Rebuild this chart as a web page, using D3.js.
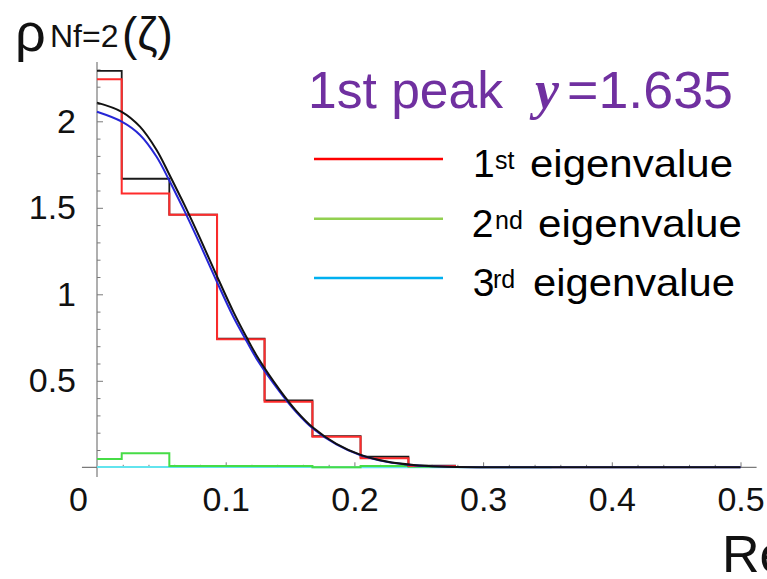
<!DOCTYPE html>
<html>
<head>
<meta charset="utf-8">
<script src="https://cdn.jsdelivr.net/npm/d3@7"></script>
<style>
  html, body { margin: 0; padding: 0; background: #fff; }
  svg { display: block; }
</style>
</head>
<body>
<svg id="chart" width="767" height="579"></svg>
<script>
// ---------- data ----------
const binEdges = [0, 0.0192, 0.0562, 0.0933, 0.1302, 0.1674, 0.2048, 0.2420, 0.2789, 0.3162, 0.3533];
const histFirst   = [2.243, 1.582, 1.460, 0.740, 0.379, 0.177, 0.052, 0.008];   // red
const histTheory  = [2.291, 1.668, 1.460, 0.743, 0.387, 0.180, 0.061, 0.009];   // black
const histSecond  = [0.048, 0.081, 0.008, 0.008, 0.008, 0.000, 0.007, 0.003];   // green
const histThird   = [0.002, 0.002, 0.002, 0.002, 0.002, 0.001, 0.001, 0.001, 0.001, 0.001]; // cyan

const curveX      = [0, 0.0192, 0.0334, 0.0463, 0.0557, 0.0624, 0.0684, 0.080, 0.093, 0.1059, 0.1163, 0.1253, 0.1422, 0.155, 0.168, 0.186, 0.2044, 0.225, 0.246, 0.2665, 0.30, 0.40, 0.50];
const curveBlack  = [2.108, 2.055, 1.969, 1.834, 1.700, 1.600, 1.510, 1.325, 1.108, 0.900, 0.750, 0.630, 0.445, 0.325, 0.228, 0.135, 0.073, 0.033, 0.013, 0.004, 0.000, 0.000, 0.000];
const curveBlue   = [2.055, 1.998, 1.921, 1.795, 1.665, 1.565, 1.475, 1.290, 1.075, 0.870, 0.728, 0.612, 0.435, 0.318, 0.223, 0.132, 0.071, 0.032, 0.012, 0.004, 0.000, 0.000, 0.000];

const xTicksMajor = [0, 0.1, 0.2, 0.3, 0.4, 0.5];
const xTickLabels = ["0", "0.1", "0.2", "0.3", "0.4", "0.5"];
const yTicksMajor = [0.5, 1, 1.5, 2];
const yTickLabels = ["0.5", "1", "1.5", "2"];

const legendNames = [["1", "st"], ["2", "nd"], ["3", "rd"]];
const legendColors = ["#ff0000", "#92d050", "#00b0f0"];

// ---------- scales ----------
const sans = "'Liberation Sans', Arial, sans-serif";
const serif = "'Liberation Serif', 'Times New Roman', serif";
const svg = d3.select("#chart").style("font-family", sans);
const x = d3.scaleLinear().domain([0, 0.5]).range([97, 740.5]);
const y = d3.scaleLinear().domain([0, 1]).range([467.3, 294.3]);

const axisColor = "#7a7a7a";

// axis lines
svg.append("line").attr("x1", x(-0.0117)).attr("x2", x(0.5125))
  .attr("y1", y(0)).attr("y2", y(0)).attr("stroke", axisColor).attr("stroke-width", 1.2);
svg.append("line").attr("x1", x(0)).attr("x2", x(0))
  .attr("y1", y(-0.056)).attr("y2", y(2.343)).attr("stroke", axisColor).attr("stroke-width", 1.2);

// minor ticks
const xMinor = d3.range(0.02, 0.5001, 0.02).filter(v => Math.abs(v * 10 - Math.round(v * 10)) > 1e-6);
const yMinor = d3.range(0.1, 2.301, 0.1).filter(v => Math.abs(v * 2 - Math.round(v * 2)) > 1e-6);

const gx = svg.append("g").attr("transform", `translate(0,${y(0)})`);
gx.call(d3.axisBottom(x).tickValues(xMinor).tickSize(-2.5).tickFormat(""));
gx.append("g").call(d3.axisBottom(x).tickValues(xTicksMajor).tickSize(-5).tickPadding(20)
  .tickFormat((d, i) => xTickLabels[i]));
gx.selectAll(".domain").remove();
gx.selectAll("line").attr("stroke", axisColor);
gx.selectAll("text").style("font-size", "34px").style("font-family", sans).attr("fill", "#111")
  .attr("dx", (d) => d === 0 ? -19 : 0);
gx.selectAll(".tick").filter(d => d === 0).select("line").remove();

const gy = svg.append("g").attr("transform", `translate(${x(0)},0)`);
gy.call(d3.axisLeft(y).tickValues(yMinor).tickSize(-3.5).tickFormat(""));
gy.append("g").call(d3.axisLeft(y).tickValues(yTicksMajor).tickSize(-6).tickPadding(21)
  .tickFormat((d, i) => yTickLabels[i]));
gy.selectAll(".domain").remove();
gy.selectAll("line").attr("stroke", axisColor);
gy.selectAll("text").style("font-size", "34px").style("font-family", sans).attr("fill", "#111");

// ---------- histograms ----------
function stepPoints(vals) {
  const pts = vals.map((v, i) => [binEdges[i], v]);
  pts.push([binEdges[vals.length], vals[vals.length - 1]]);
  return pts;
}
const stepLine = d3.line().x(d => x(d[0])).y(d => y(d[1])).curve(d3.curveStepAfter);

svg.append("path").attr("d", stepLine(stepPoints(histThird)))
  .attr("fill", "none").attr("stroke", "#62e4ee").attr("stroke-width", 2);
svg.append("path").attr("d", stepLine(stepPoints(histSecond)))
  .attr("fill", "none").attr("stroke", "#46dc46").attr("stroke-width", 2);
svg.append("path").attr("d", stepLine(stepPoints(histTheory)))
  .attr("fill", "none").attr("stroke", "#1a1a1a").attr("stroke-width", 1.8);
svg.append("path").attr("d", stepLine(stepPoints(histFirst)))
  .attr("fill", "none").attr("stroke", "#ff2b2b").attr("stroke-width", 2);

// ---------- curves ----------
const smooth = d3.line().x(d => x(d[0])).y(d => y(d[1])).curve(d3.curveCatmullRom.alpha(0.5));
svg.append("path").attr("d", smooth(curveX.map((v, i) => [v, curveBlue[i]])))
  .attr("fill", "none").attr("stroke", "#2626d6").attr("stroke-width", 2);
svg.append("path").attr("d", smooth(curveX.map((v, i) => [v, curveBlack[i]])))
  .attr("fill", "none").attr("stroke", "#111").attr("stroke-width", 2);

// ---------- y label ----------
function txt(xp, yp, size, s, fill, fam) {
  return svg.append("text").attr("x", xp).attr("y", yp).attr("fill", fill || "#111")
    .style("font-size", size + "px").style("font-family", fam || sans).text(s);
}
txt(15, 51, 54, "ρ");
txt(50, 47, 32, "Nf=2");
txt(122, 50, 46, "(ζ)");

// ---------- x label (cut at the edge, as in the reference) ----------
txt(722, 572, 52, "Re(ζ)");

// ---------- title ----------
const purple = "#7030a0";
txt(308, 108, 52, "1st peak", purple).attr("textLength", 195).attr("lengthAdjust", "spacingAndGlyphs");
txt(535, 108, 54, "y", purple, serif).style("font-style", "italic").style("font-weight", "bold");
txt(567, 108, 52, "=1.635", purple).attr("textLength", 166).attr("lengthAdjust", "spacingAndGlyphs");

// ---------- legend ----------
const legBase = [177, 236.7, 296];
const legNumX = [473, 471.7, 472.7];
const legSupX = [495, 495, 493];
const legWordX = [530, 538, 533];
const legWordW = [203, 204, 202];
legendNames.forEach((nm, i) => {
  const lineY = legBase[i] - 18;
  svg.append("line").attr("x1", 314).attr("x2", 443).attr("y1", lineY).attr("y2", lineY)
    .attr("stroke", legendColors[i]).attr("stroke-width", 2.6);
  txt(legNumX[i], legBase[i], 39, nm[0], "#000");
  txt(legSupX[i], legBase[i] - 8, 25, nm[1], "#000");
  txt(legWordX[i], legBase[i], 39, "eigenvalue", "#000")
    .attr("textLength", legWordW[i]).attr("lengthAdjust", "spacingAndGlyphs");
});
</script>
</body>
</html>
